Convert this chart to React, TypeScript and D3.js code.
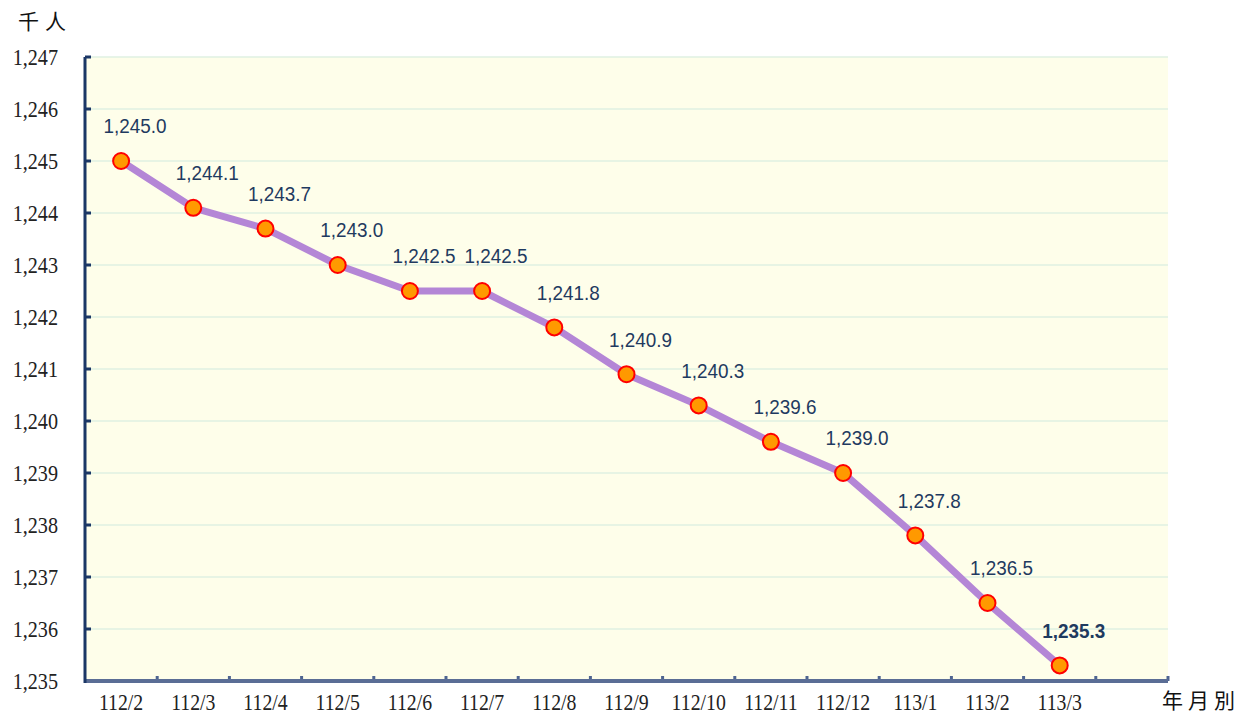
import React from 'react'
import * as d3 from 'd3'

const months = ['112/2', '112/3', '112/4', '112/5', '112/6', '112/7', '112/8', '112/9', '112/10', '112/11', '112/12', '113/1', '113/2', '113/3']
const values = [1245.0, 1244.1, 1243.7, 1243.0, 1242.5, 1242.5, 1241.8, 1240.9, 1240.3, 1239.6, 1239.0, 1237.8, 1236.5, 1235.3]
const yTicks = [1235, 1236, 1237, 1238, 1239, 1240, 1241, 1242, 1243, 1244, 1245, 1246, 1247]

const W = 1247
const H = 715
const left = 85
const right = 1168
const top = 57
const bottom = 681
const serif = "'Liberation Serif', 'DejaVu Serif', serif"
const sans = "'Liberation Sans', Arial, sans-serif"

// narrow text, the original fonts are condensed
const Narrow = ({ x, y, sx, children, ...rest }: any) => (
    <text transform={`translate(${x},${y}) scale(${sx},1)`} dy="0.35em" {...rest}>{children}</text>
)

const App = () => {
    // one empty band at the right end, like the original
    const slots = [...months, '']
    const xScale = d3.scaleBand().domain(slots).range([left, right])
    const cx = (m: string) => (xScale(m) as number) + xScale.bandwidth() / 2
    const yScale = d3.scaleLinear().domain([1235, 1247]).range([bottom, top])
    const fmt = d3.format(',.1f')
    const yFmt = d3.format(',')

    const pts = months.map((m, i) => ({ m, v: values[i] }))
    const line = d3.line<{ m: string; v: number }>()
        .x(d => cx(d.m))
        .y(d => yScale(d.v))

    const bands = xScale.domain().map(d => xScale(d) as number)

    return (
        <svg width={W} height={H} style={{ position: 'absolute', left: 0, top: 0 }}>
            <rect x={left} y={top} width={right - left} height={bottom - top} fill="#fefeea" />
            {yTicks.map(t => (
                <line key={'g' + t} x1={left} x2={right} y1={yScale(t)} y2={yScale(t)} stroke="#dff0e2" strokeWidth={1.5} />
            ))}
            {yTicks.map(t => (
                <Narrow key={'y' + t} x={58} y={yScale(t)} sx={0.84} textAnchor="end"
                    fontFamily={serif} fontSize={24} fill="#222">{yFmt(t)}</Narrow>
            ))}
            {yTicks.map(t => (
                <line key={'yt' + t} x1={left} x2={left + 6} y1={yScale(t)} y2={yScale(t)} stroke="#1b3766" strokeWidth={3} />
            ))}
            {bands.slice(1).map((b, i) => (
                <line key={'xt' + i} x1={b} x2={b} y1={bottom} y2={bottom - 5} stroke="#4e6491" strokeWidth={3} />
            ))}
            <line x1={right} x2={right} y1={bottom} y2={bottom - 5} stroke="#4e6491" strokeWidth={3} />
            <line x1={left} x2={right} y1={bottom} y2={bottom} stroke="#5a6d95" strokeWidth={4} />
            <line x1={left} x2={left} y1={top} y2={bottom + 2} stroke="#1b3766" strokeWidth={3} />
            {months.map(m => (
                <Narrow key={'x' + m} x={cx(m)} y={702} sx={0.86} textAnchor="middle"
                    fontFamily={serif} fontSize={23} fill="#222">{m}</Narrow>
            ))}
            <path d={line(pts) as string} fill="none" stroke="#b486d6" strokeWidth={7} strokeLinejoin="round" />
            {pts.map(p => (
                <circle key={'c' + p.m} cx={cx(p.m)} cy={yScale(p.v)} r={8} fill="#ff9900" stroke="#ff0000" strokeWidth={2} />
            ))}
            {pts.map((p, i) => (
                <Narrow key={'l' + p.m} x={cx(p.m) + 14} y={yScale(p.v) - 35} sx={0.9} textAnchor="middle"
                    fontFamily={sans} fontSize={21}
                    fontWeight={i === pts.length - 1 ? 'bold' : 'normal'} fill="#1f3a60">{fmt(p.v)}</Narrow>
            ))}
            <text x={18} y={22} dy="0.35em" fontFamily="'Noto Sans CJK TC', serif" fontSize={21} letterSpacing={6} fill="#111">千人</text>
            <text x={1162} y={701} dy="0.35em" fontFamily="'Noto Sans CJK TC', serif" fontSize={21} letterSpacing={5} fill="#111">年月別</text>
        </svg>
    )
}

export default App
